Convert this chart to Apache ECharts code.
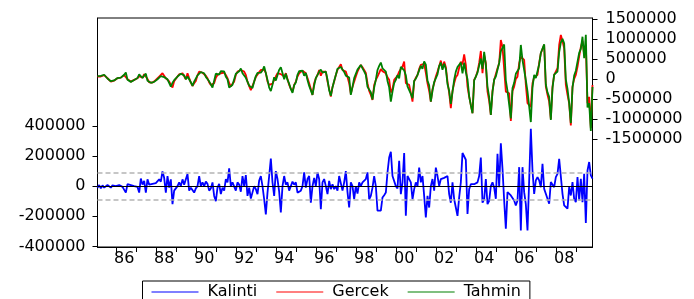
<!DOCTYPE html>
<html>
<head>
<meta charset="utf-8">
<script src="https://cdn.jsdelivr.net/npm/echarts@6/dist/echarts.min.js"></script>
<style>
  html, body { margin: 0; padding: 0; background: #fff; }
  #chart { width: 694px; height: 299px; }
</style>
</head>
<body>
<div id="chart"></div>
<script>
// aylik seri, ilk gozlem 1985M02
const startYear = 1985
const startMonth = 2

// Gercek (bin), bir satir = bir yil
const gercekBin = [
  58, 55, 60, 75, 95, 117, 17, -30, -67, -55, -42,
  -10, 17, 25, 33, 70, 95, 117, -8, -40, -67, -45, -25,
  5, 17, 70, 117, 33, 117, 90, 0, -83, -92, -92, -50,
  -25, 17, 60, 100, 142, 100, 17, 58, -60, -150, -217, -60,
  -25, 60, 117, 130, 142, 100, -8, 142, 20, -92, -175, -110,
  -50, 90, 183, 170, 155, 142, 80, 17, -90, -150, -192, -108,
  30, 100, 120, 142, 150, 158, 100, 17, -100, -192, -120, -67,
  100, 183, 200, 225, 210, 183, 100, -67, -180, -280, -317, -67,
  50, 100, 170, 225, 210, 225, 150, -67, -150, -120, -120, -25,
  60, 142, 190, 120, 150, 58, 142, 0, -150, -250, -317, -150,
  -67, 60, 142, 180, 208, 170, 142, 20, -108, -250, -400, -108,
  20, 100, 225, 80, 183, 190, 183, -67, -250, -442, -200, -67,
  100, 225, 300, 367, 225, 200, 183, 50, -108, -375, -200, -67,
  60, 183, 270, 350, 290, 225, 150, -108, -300, -400, -525, -150,
  -25, 60, 150, 245, 190, 170, 140, 40, -20, -340, -250, -25,
  -25, 80, 183, 250, 308, 433, -108, -120, -150, -350, -567, -67,
  30, 100, 250, 350, 320, 375, 150, -108, -300, -567, -250, -108,
  60, 183, 320, 458, 267, 433, 300, -67, -350, -733, -300, -108,
  40, 100, 280, 433, 362, 617, 350, -192, -450, -650, -858, -25,
  60, 183, 400, 700, 142, 593, 400, -317, -550, -900, -300, -25,
  -25, 267, 392, 975, 800, 767, -317, -340, -358, -1050, -300, -192,
  0, 58, 392, 556, 600, 475, -150, -608, -650, -700, -108, 50,
  60, 100, 400, 642, 750, 850, -192, -400, -567, -1000, -192, 100,
  150, 267, 850, 1100, 950, 764, -150, -400, -608, -1167, -192, 0,
  100, 300, 558, 800, 950, 600, 860, -608, -450, -1230, -150
]

// Kalinti (bin)
const kalintiBin = [
  -10, 7, -15, 5, -10, -20, 7, -5, -10, 5, -5,
  0, -5, 7, 0, -5, -10, -43, 13, 0, 7, 5, 0,
  0, -5, -43, 50, 10, 35, -43, 45, 10, 5, 15, 25,
  20, 25, 45, 30, 98, 55, -43, 67, -10, 45, -120, -30,
  -30, 0, 25, 0, 45, 10, 0, 80, -30, -10, 0, -43,
  -15, 0, 67, 0, 25, 0, 30, 15, -30, -15, 25, -65,
  -100, -10, 15, -53, -10, -30, 47, 25, 118, 0, 25, 35,
  -30, 25, 10, -37, 67, 0, 73, -65, -10, -83, -90, 0,
  -20, -53, 37, 67, 0, -87, -187, -43, 67, 183, 25, -65,
  100, 47, -37, -175, 0, 67, 10, 25, -30, 0, 30, 10,
  25, -43, -50, -30, 0, 91, -10, 47, 67, -110, 0, 55,
  0, 91, 47, -153, 25, 47, 0, -53, 35, -20, 13, -20,
  0, -30, 67, 67, -30, 25, 100, -40, -142, 25, 0, -87,
  0, -50, 25, 0, 25, 35, 47, 91, -87, -65, -10, 67,
  0, -163, -175, -163, -75, -60, -43, 91, 190, 228, 67, 80,
  0, -15, 168, -53, 25, 220, -197, 67, 55, 25, -87, -20,
  25, 0, 123, 25, 67, -65, -208, -65, -142, 0, 47, -30,
  123, 67, 0, 47, 40, 55, 50, 67, -53, -110, 25, -87,
  -142, -197, -75, 25, 220, 213, 175, -185, -20, 13, 0, 13,
  0, 25, 67, 190, -110, -87, 47, -120, -98, 0, 25, -10,
  -84, 214, -7, 285, 115, -95, -283, -40, -51, -62, -73, -95,
  -128, -95, 126, -294, 126, -40, -120, -294, 38, 380, 104, -51,
  38, 60, 38, -7, 148, -18, -51, -62, -117, 27, 38, -7,
  60, 82, 181, 192, -51, -128, -139, -150, -7, -62, 27, -84,
  -106, 60, -95, 49, -106, 82, -245, 104, 160, 71, 50
]

const residTicks = [-400000, -200000, 0, 200000, 400000]
const levelTicks = [-1500000, -1000000, -500000, 0, 500000, 1000000, 1500000]
const seBand = 91000 // +/- 1 standart hata

// ay kategorileri
const months = []
for (let i = 0; i < gercekBin.length; i++) {
  const m = startMonth - 1 + i
  const y = startYear + Math.floor(m / 12)
  const mm = (m % 12) + 1
  months.push(y + '-' + (mm < 10 ? '0' + mm : mm))
}

const gercek = gercekBin.map(v => v * 1000)
const kalinti = kalintiBin.map(v => v * 1000)
// Tahmin = Gercek - Kalinti
const tahmin = gercek.map((v, i) => v - kalinti[i])

const font = 'DejaVu Sans'
const txt = { fontFamily: font, fontSize: 16, color: '#000' }
const legendKeys = { Kalinti: 'k', Gercek: 'g', Tahmin: 't' }

const chart = echarts.init(document.getElementById('chart'), null, { renderer: 'canvas' })

chart.setOption({
  animation: false,
  backgroundColor: '#fff',
  grid: {
    left: 97.5, right: 101.5, top: 18, bottom: 52,
    show: true, borderColor: '#000', borderWidth: 1
  },
  legend: {
    left: 142.5, top: 281,
    data: ['Kalinti', 'Gercek', 'Tahmin'],
    icon: 'rect', itemWidth: 47, itemHeight: 1, itemGap: 19,
    padding: [3, 9, 12, 9],
    borderColor: '#000', borderWidth: 1, borderRadius: 0,
    formatter: name => '{' + legendKeys[name] + '|' + name + '}',
    textStyle: {
      ...txt,
      rich: {
        k: { ...txt, width: 53, padding: [0, 0, 0, 4] },
        g: { ...txt, width: 62, padding: [0, 0, 0, 4] },
        t: { ...txt, width: 66, padding: [0, 0, 0, 4] }
      }
    }
  },
  xAxis: {
    type: 'category',
    data: months,
    boundaryGap: false,
    axisLine: { onZero: false, lineStyle: { color: '#000', width: 1 } },
    axisTick: {
      interval: (i, v) => v.endsWith('-01'),
      length: 5,
      lineStyle: { color: '#000' }
    },
    axisLabel: {
      ...txt,
      interval: (i, v) => v.endsWith('-06') && Number(v.slice(0, 4)) % 2 === 0,
      formatter: v => v.slice(2, 4),
      margin: 4
    },
    splitLine: { show: false }
  },
  yAxis: [
    {
      type: 'value',
      position: 'left',
      min: -404000,
      max: 1116000,
      axisLine: { show: true, lineStyle: { color: '#000' } },
      axisTick: { show: true, length: 5, customValues: residTicks, lineStyle: { color: '#000' } },
      axisLabel: { ...txt, customValues: residTicks, formatter: v => String(v), margin: 12 },
      splitLine: { show: false }
    },
    {
      type: 'value',
      position: 'right',
      min: -4207500,
      max: 1525000,
      axisLine: { show: true, lineStyle: { color: '#000' } },
      axisTick: { show: true, length: 5, customValues: levelTicks, lineStyle: { color: '#000' } },
      axisLabel: { ...txt, customValues: levelTicks, formatter: v => String(v), margin: 13, padding: [0, 0, 4, 0] },
      splitLine: { show: false }
    }
  ],
  series: [
    {
      name: 'Kalinti',
      type: 'line',
      yAxisIndex: 0,
      data: kalinti,
      showSymbol: false,
      lineStyle: { color: '#0000ff', width: 1.8 },
      itemStyle: { color: '#0000ff' },
      markLine: {
        silent: true,
        symbol: ['none', 'none'],
        label: { show: false },
        data: [
          { yAxis: seBand, lineStyle: { color: '#b4b4b4', type: [5, 3], width: 1.5 } },
          { yAxis: -seBand, lineStyle: { color: '#b4b4b4', type: [5, 3], width: 1.5 } },
          { yAxis: 0, lineStyle: { color: '#000', type: 'solid', width: 1 } }
        ]
      }
    },
    {
      name: 'Gercek',
      type: 'line',
      yAxisIndex: 1,
      data: gercek,
      showSymbol: false,
      lineStyle: { color: '#ff0000', width: 1.8 },
      itemStyle: { color: '#ff0000' }
    },
    {
      name: 'Tahmin',
      type: 'line',
      yAxisIndex: 1,
      data: tahmin,
      showSymbol: false,
      lineStyle: { color: '#008000', width: 1.8 },
      itemStyle: { color: '#008000' }
    }
  ]
})
</script>
</body>
</html>
